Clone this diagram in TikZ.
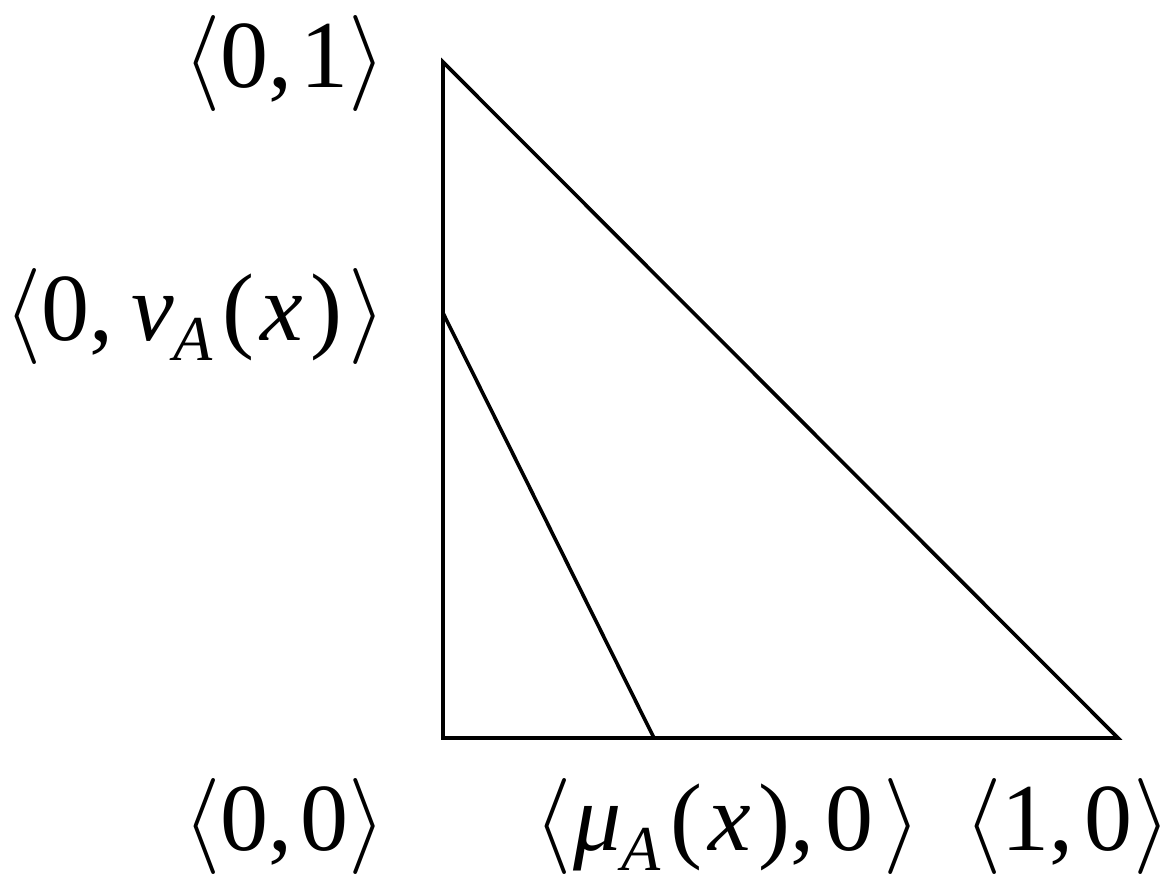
\RequirePackage{fix-cm}
\documentclass[tikz,border=0pt]{standalone}
\usepackage{fontspec}
\setmainfont{Liberation Serif}
\newcommand{\la}{$\langle$}
\newcommand{\ra}{$\rangle$}
\newcommand{\iz}[1]{\textit{#1}}
\newcommand{\sbA}{\raisebox{-0.21em}{\fontsize{64}{64}\selectfont\textit{A}}}
\begin{document}
\begin{tikzpicture}[x=1pt,y=-1pt,
  lbl/.style={inner sep=0pt,font=\fontsize{96}{100}\selectfont},
  edge/.style={line width=3.6pt}]
\useasboundingbox (0,0) rectangle (1173,888);
\coordinate (t) at (443,62);
\coordinate (o) at (443,738);
\coordinate (r) at (1118,738);
\coordinate (nu) at (443,313);
\coordinate (mu) at (654,738);
\draw[edge,line join=miter] (t) -- (o) -- (r) -- cycle;
\draw[edge] (nu) -- (mu);
\node[lbl,anchor=base east] (l01) at (386,88) {\la 0,\hspace{0.08em}1\ra};
\node[lbl,anchor=base east] (lnu) at (386,340) {\la 0,\hspace{0.18em}\iz{ν}\sbA\hspace{0.1em}(\hspace{0.06em}\iz{x}\hspace{0.08em})\hspace{0.06em}\ra};
\node[lbl,anchor=base east] (l00) at (386,850) {\la 0,\hspace{0.08em}0\ra};
\node[lbl,anchor=base west] (lmu) at (534,850) {\la\hspace{0.02em}\iz{μ}\sbA\hspace{0.1em}(\hspace{0.06em}\iz{x}\hspace{0.08em}),\hspace{0.12em}0\hspace{0.1em}\ra};
\node[lbl,anchor=base west] (l10) at (964,850) {\la 1,\hspace{0.12em}0\ra};
\end{tikzpicture}
\end{document}
